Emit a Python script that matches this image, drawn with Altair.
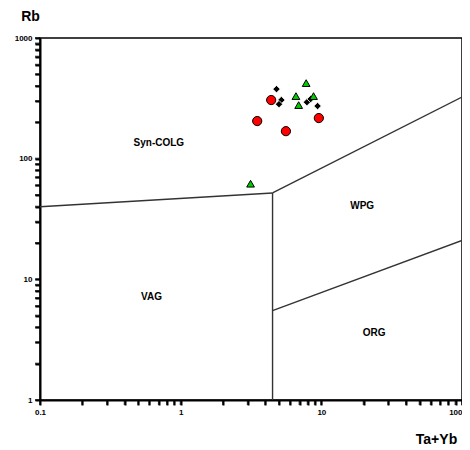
import altair as alt
import pandas as pd

# --- sample data ---
red_x = [4.4, 3.5, 5.6, 9.6]
red_y = [306, 205, 169, 217]
green_x = [7.8, 6.6, 6.9, 8.8, 3.14]
green_y = [423, 330, 278, 330, 62]
black_x = [4.8, 5.2, 5.0, 7.9, 8.4, 9.4]
black_y = [377, 306, 283, 294, 312, 273]

# --- field boundaries (Pearce et al. 1984, Rb vs Ta+Yb) ---
seg_id = ["a", "a", "b", "b", "c", "c", "d", "d"]
seg_x = [0.1, 4.5, 4.5, 100, 4.5, 4.5, 4.5, 100]
seg_y = [40, 52, 52, 324, 52, 1, 5.5, 21]

field_names = ["Syn-COLG", "WPG", "VAG", "ORG"]
field_x = [0.70, 19.5, 0.62, 23.7]
field_y = [135, 40.5, 7.1, 3.6]

x_ticks = [0.1, 0.2, 0.3, 0.4, 0.5, 0.6, 0.7, 0.8, 0.9,
           1, 2, 3, 4, 5, 6, 7, 8, 9,
           10, 20, 30, 40, 50, 60, 70, 80, 90, 100]
x_labels = [0.1, 1, 10, 100]
y_ticks = [1, 2, 3, 4, 5, 6, 7, 8, 9,
           10, 20, 30, 40, 50, 60, 70, 80, 90,
           100, 200, 300, 400, 500, 600, 700, 800, 900, 1000]
y_labels = [1, 10, 100, 1000]

W, H = 422, 362
TICK = 5


def label_expr(labels):
    cond = " || ".join(f"datum.value == {v}" for v in labels)
    return f"({cond}) ? format(datum.value, '~g') : ''"


xs = alt.Scale(type="log", domain=[0.1, 100], nice=False)
ys = alt.Scale(type="log", domain=[1, 1000], nice=False)

x_axis = alt.Axis(values=x_ticks, labelExpr=label_expr(x_labels), title="Ta+Yb",
                  titleX=396, titleY=39, titleAlign="center", titleBaseline="middle",
                  titleFontSize=14, titleFontWeight="bold", labelFlush=False,
                  labelOverlap=False, ticks=True, tickSize=TICK, tickWidth=2,
                  tickColor="#000000", labelPadding=3,
                  labelAlign={"condition": {"test": "datum.value == 100",
                                            "value": "right"},
                              "value": "center"})
y_axis = alt.Axis(values=y_ticks, labelExpr=label_expr(y_labels), title="Rb",
                  titleAngle=0, titleX=-10, titleY=-22, titleAlign="center",
                  titleBaseline="middle", titleFontSize=14, titleFontWeight="bold",
                  labelFlush=False, labelOverlap=False, ticks=True, tickSize=TICK,
                  tickWidth=2, tickColor="#000000", labelPadding=3)

X = alt.X("x:Q", scale=xs, axis=x_axis)
Y = alt.Y("y:Q", scale=ys, axis=y_axis)

seg_df = pd.DataFrame({"seg": seg_id, "x": seg_x, "y": seg_y})
lines = alt.Chart(seg_df).mark_line(color="#333333", strokeWidth=1.4).encode(
    x=X, y=Y, detail="seg:N")

# extra tick marks (major and minor) drawn through the scales
xt_df = pd.DataFrame({"x": x_ticks})
yt_df = pd.DataFrame({"y": y_ticks})
xticks = alt.Chart(xt_df).mark_tick(color="black", thickness=2, size=TICK,
                                    yOffset=TICK / 2).encode(
    x=X, y=alt.value(H))
yticks = alt.Chart(yt_df).mark_tick(color="black", thickness=2, size=TICK,
                                    xOffset=-TICK / 2).encode(
    y=Y, x=alt.value(0))

field_df = pd.DataFrame({"name": field_names, "x": field_x, "y": field_y})
labels = alt.Chart(field_df).mark_text(fontSize=10, fontWeight="bold",
                                      font="Liberation Sans", color="black").encode(
    x=X, y=Y, text="name:N")

red_df = pd.DataFrame({"x": red_x, "y": red_y})
green_df = pd.DataFrame({"x": green_x, "y": green_y})
black_df = pd.DataFrame({"x": black_x, "y": black_y})

red = alt.Chart(red_df).mark_point(shape="circle", size=85, filled=True,
                                   fill="#ff0000", stroke="black", strokeWidth=1,
                                   opacity=1).encode(x=X, y=Y)
black = alt.Chart(black_df).mark_point(shape="diamond", size=55, filled=True,
                                       fill="black", stroke="white", strokeWidth=0.8,
                                       opacity=1).encode(x=X, y=Y)
green = alt.Chart(green_df).mark_point(shape="triangle-up", size=60, filled=True,
                                       fill="#00cc00", stroke="black", strokeWidth=1,
                                       opacity=1).encode(x=X, y=Y)

chart = alt.layer(lines, xticks, yticks, labels, red, black, green).properties(
    width=W, height=H,
    autosize=alt.AutoSizeParams(type="none"),
    padding={"left": 32, "top": 30, "right": 0, "bottom": 50},
).configure_view(stroke="black", strokeWidth=1.5).configure_axis(
    grid=False, domainColor="black", domainWidth=2,
    labelFont="Liberation Sans", labelFontWeight="bold",
    labelFontSize=8, labelColor="black",
    titleFont="Liberation Sans", titleColor="black",
)

chart.save("out.html", embed_options={"renderer": "svg", "actions": False})
